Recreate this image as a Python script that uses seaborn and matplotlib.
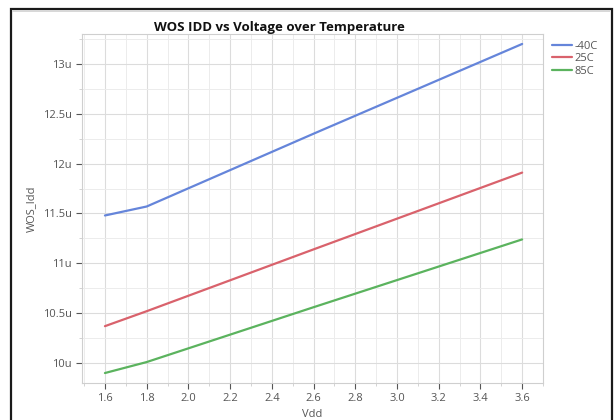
import numpy as np
import pandas as pd
import matplotlib
matplotlib.use("Agg")
import matplotlib.pyplot as plt
from matplotlib.ticker import MultipleLocator, FuncFormatter
from matplotlib.patches import Rectangle
import seaborn as sns

vdd = [1.6, 1.8, 2.6, 3.6]
idd_m40 = [11.48, 11.57, 12.30, 13.20]
idd_25 = [10.37, 10.52, 11.14, 11.91]
idd_85 = [9.90, 10.01, 10.56, 11.24]
series_names = ["-40C", "25C", "85C"]
x_ticks = [1.6, 1.8, 2.0, 2.2, 2.4, 2.6, 2.8, 3.0, 3.2, 3.4, 3.6]
y_ticks = [10.0, 10.5, 11.0, 11.5, 12.0, 12.5, 13.0]

sns.set_theme(style="white")
plt.rcParams['font.family'] = ['Open Sans', 'DejaVu Sans']

rows = []
for name, vals in zip(series_names, [idd_m40, idd_25, idd_85]):
    for v, i in zip(vdd, vals):
        rows.append({"Vdd": v, "WOS_Idd": i, "Temp": name})
df = pd.DataFrame(rows)

fig = plt.figure(figsize=(6.16, 4.2), dpi=100)
ax = fig.add_axes([82/616, 1-383/420, (543-82)/616, (383-34)/420])

palette = {"-40C": "#6585DA", "25C": "#D9626C", "85C": "#5BB35E"}
sns.lineplot(data=df, x="Vdd", y="WOS_Idd", hue="Temp", palette=palette,
             linewidth=1.6, ax=ax, legend=True)

ax.set_xlim(1.49, 3.70)
ax.set_ylim(9.8, 13.3)
ax.set_xticks(x_ticks)
ax.set_yticks(y_ticks)
ax.xaxis.set_minor_locator(MultipleLocator(0.1))
ax.yaxis.set_minor_locator(MultipleLocator(0.25))
ax.xaxis.set_major_formatter(FuncFormatter(lambda v, p: f"{v:.1f}"))
ax.yaxis.set_major_formatter(FuncFormatter(lambda v, p: (f"{v:g}") + "u"))
ax.grid(True, which="major", color="#dcdcdc", linewidth=0.8)
ax.grid(True, which="minor", color="#ececec", linewidth=0.7)
ax.set_axisbelow(True)
for s in ax.spines.values():
    s.set_color("#cfcfcf")
    s.set_linewidth(0.8)
ax.tick_params(axis="both", which="major", labelsize=8, colors="#555555",
               length=4, width=0.8, direction="out", bottom=True, left=True)
ax.tick_params(axis="both", which="minor", length=2, width=0.6, colors="#cccccc",
               bottom=True, left=True)
ax.set_xlabel("Vdd", fontsize=8, color="#555555", labelpad=3)
ax.set_ylabel("WOS_Idd", fontsize=8, color="#555555", labelpad=4)

leg = ax.legend(loc="upper left", bbox_to_anchor=(1.005, 1.0), frameon=False,
                fontsize=8, handlelength=1.8, handletextpad=0.2,
                labelspacing=0.15, borderaxespad=0.2)
for t in leg.get_texts():
    t.set_color("#555555")

fig.text(279/616, 1-28/420, "WOS IDD vs Voltage over Temperature", ha="center",
         va="center", fontsize=9.5, fontweight="bold", color="#111111")

fig.patches.append(Rectangle((11/616, -0.02), (612-11)/616, 1.02-9/420,
                             transform=fig.transFigure, fill=False,
                             edgecolor="#1a1a1a", linewidth=1.6))
fig.patches.append(Rectangle((12/616, 1-12/420), (610-12)/616, 2/420,
                             transform=fig.transFigure, fill=True,
                             facecolor="#d8d8d8", edgecolor="none"))

fig.savefig("out.png", dpi=100)
